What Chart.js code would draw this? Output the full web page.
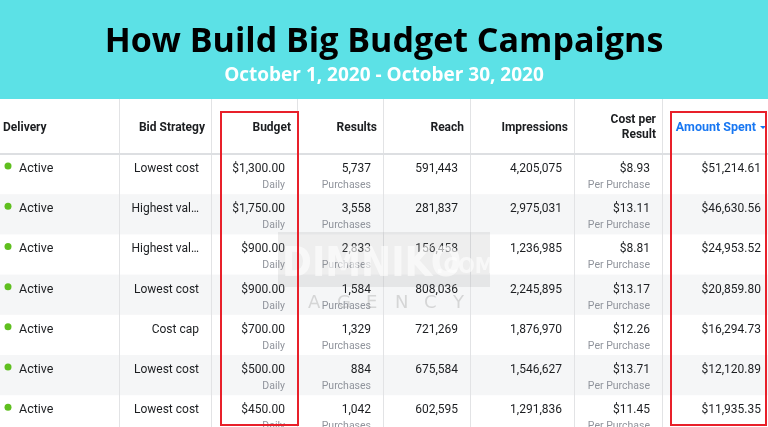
<!DOCTYPE html>
<html lang="en">
<head>
  <meta charset="UTF-8">
  <title>How Build Big Budget Campaigns</title>
  <script src="https://cdn.jsdelivr.net/npm/chart.js"></script>
  <style>
    * { box-sizing: border-box; }
    body { margin: 0; background: #ffffff; }
    .wrap { position: relative; width: 768px; height: 427px; }
  </style>
</head>
<body>
  <div class="wrap">
    <canvas id="tabela"></canvas>
  </div>

  <script>
    // dados
    const columnHeaders = ['Delivery', 'Bid Strategy', 'Budget', 'Results', 'Reach', 'Impressions', ['Cost per', 'Result'], 'Amount Spent'];
    const delivery = ['Active', 'Active', 'Active', 'Active', 'Active', 'Active', 'Active'];
    const bidStrategy = ['Lowest cost', 'Highest val…', 'Highest val…', 'Lowest cost', 'Cost cap', 'Lowest cost', 'Lowest cost'];
    const budget = [1300, 1750, 900, 900, 700, 500, 450];
    const results = [5737, 3558, 2833, 1584, 1329, 884, 1042];
    const reach = [591443, 281837, 156458, 808036, 721269, 675584, 602595];
    const impressions = [4205075, 2975031, 1236985, 2245895, 1876970, 1546627, 1291836];
    const costPerResult = [8.93, 13.11, 8.81, 13.17, 12.26, 13.71, 11.45];
    const amountSpent = [51214.61, 46630.56, 24953.52, 20859.80, 16294.73, 12120.89, 11935.35];

    // layout (bordas das colunas em px, altura das linhas)
    const colEdges = [0, 119, 211, 297, 383, 470, 574, 662, 768];
    const headerH = 55;
    const rowH = 40.2;
    const visibleRows = (427 - 154) / rowH;

    const money = v => '$' + v.toLocaleString('en-US', { minimumFractionDigits: 2, maximumFractionDigits: 2 });
    const num = v => v.toLocaleString('en-US');

    const cells = [
      null,
      { main: bidStrategy },
      { main: budget.map(money), sub: 'Daily' },
      { main: results.map(num), sub: 'Purchases' },
      { main: reach.map(num) },
      { main: impressions.map(num) },
      { main: costPerResult.map(money), sub: 'Per Purchase' },
      { main: amountSpent.map(money) }
    ];

    const FONT = 'Roboto, "Liberation Sans", sans-serif';

    const tabelaPlugin = {
      id: 'tabela',
      beforeDraw(chart) {
        const { ctx, chartArea, scales: { x, y } } = chart;
        const top = chartArea.top - headerH;
        ctx.save();
        ctx.fillStyle = '#5ce1e6';
        ctx.fillRect(0, 0, chart.width, top);
        ctx.fillStyle = '#ffffff';
        ctx.fillRect(0, top, chart.width, chart.height - top);
        // linhas zebradas
        delivery.forEach((d, i) => {
          if (i % 2 === 1) {
            ctx.fillStyle = '#f5f6f7';
            const y0 = y.getPixelForValue(i);
            ctx.fillRect(x.left, y0, x.width, y.getPixelForValue(i + 1) - y0);
          }
        });
        // separadores
        ctx.strokeStyle = '#e2e3e5';
        ctx.lineWidth = 1;
        colEdges.slice(1, -1).forEach(e => {
          const px = Math.round(x.getPixelForValue(e)) + 0.5;
          ctx.beginPath();
          ctx.moveTo(px, top);
          ctx.lineTo(px, chart.height);
          ctx.stroke();
        });
        ctx.strokeStyle = '#dddfe2';
        ctx.lineWidth = 2;
        ctx.beginPath();
        ctx.moveTo(0, chartArea.top);
        ctx.lineTo(chart.width, chartArea.top);
        ctx.stroke();
        ctx.restore();
      },
      afterDatasetsDraw(chart) {
        const { ctx, chartArea, scales: { x, y } } = chart;
        const top = chartArea.top - headerH;
        ctx.save();
        // cabecalho
        ctx.font = 'bold 12px ' + FONT;
        ctx.textBaseline = 'alphabetic';
        columnHeaders.forEach((h, c) => {
          const right = x.getPixelForValue(colEdges[c + 1]);
          ctx.fillStyle = '#1c1e21';
          if (c === 0) {
            ctx.textAlign = 'left';
            ctx.fillText(h, x.getPixelForValue(colEdges[0]) + 3, top + 32);
          } else if (Array.isArray(h)) {
            ctx.textAlign = 'right';
            ctx.fillText(h[0], right - 6, top + 24);
            ctx.fillText(h[1], right - 6, top + 39);
          } else if (c === columnHeaders.length - 1) {
            ctx.fillStyle = '#1877f2';
            ctx.font = 'bold 12.5px ' + FONT;
            ctx.textAlign = 'right';
            ctx.fillText(h, right - 12, top + 32);
            ctx.beginPath();
            ctx.moveTo(right - 8, top + 27);
            ctx.lineTo(right - 2, top + 27);
            ctx.lineTo(right - 5, top + 30);
            ctx.closePath();
            ctx.fill();
          } else {
            ctx.textAlign = 'right';
            ctx.fillText(h, right - 6, top + 32);
          }
        });
        // celulas
        ctx.textAlign = 'left';
        ctx.fillStyle = '#1c1e21';
        ctx.font = '12.5px ' + FONT;
        delivery.forEach((d, i) => {
          ctx.fillText(d, x.getPixelForValue(colEdges[0]) + 19, y.getPixelForValue(i) + 18);
        });
        ctx.textAlign = 'right';
        cells.forEach((col, c) => {
          if (!col) return;
          const pad = c === cells.length - 1 ? 7 : 12;
          const right = x.getPixelForValue(colEdges[c + 1]) - pad;
          col.main.forEach((v, i) => {
            const y0 = y.getPixelForValue(i);
            ctx.fillStyle = '#1c1e21';
            ctx.font = '12px ' + FONT;
            ctx.fillText(v, right, y0 + 18);
            if (col.sub) {
              ctx.fillStyle = '#90949c';
              ctx.font = '10.5px ' + FONT;
              ctx.fillText(col.sub, right, y0 + 34);
            }
          });
        });
        ctx.restore();
      },
      afterDraw(chart) {
        const { ctx, chartArea, scales: { x } } = chart;
        const top = chartArea.top - headerH;
        ctx.save();
        // marca d'agua
        ctx.fillStyle = 'rgba(150,150,150,0.16)';
        ctx.fillRect(278, 232, 212, 55);
        ctx.fillStyle = 'rgba(255,255,255,0.6)';
        ctx.font = 'bold 40px "DejaVu Sans Condensed", sans-serif';
        ctx.textAlign = 'left';
        ctx.textBaseline = 'alphabetic';
        ctx.fillText('DIMNIKO', 282, 276);
        ctx.font = 'bold 22px "DejaVu Sans Condensed", sans-serif';
        ctx.fillText('.COM', 436, 273);
        ctx.fillStyle = 'rgba(140,140,140,0.3)';
        ctx.font = '18px "DejaVu Sans", sans-serif';
        ['A', 'G', 'E', 'N', 'C', 'Y'].forEach((l, k) => ctx.fillText(l, 308 + k * 29, 308));
        // caixas vermelhas
        ctx.strokeStyle = '#e8202a';
        ctx.lineWidth = 2;
        ctx.strokeRect(x.getPixelForValue(colEdges[2]) + 10, top + 13, 77, 313);
        ctx.strokeRect(x.getPixelForValue(colEdges[7]) + 9, top + 13, 95, 313);
        ctx.restore();
      }
    };

    new Chart(document.getElementById('tabela'), {
      type: 'scatter',
      data: {
        datasets: [{
          label: 'Delivery',
          data: delivery.map((d, i) => ({ x: 8, y: i + 0.3 })),
          pointRadius: 3.5,
          pointHoverRadius: 3.5,
          backgroundColor: '#5fbf1f',
          borderWidth: 0
        }]
      },
      options: {
        responsive: true,
        maintainAspectRatio: false,
        animation: false,
        events: [],
        layout: { padding: 0, autoPadding: false },
        plugins: {
          legend: { display: false },
          tooltip: { enabled: false },
          title: {
            display: true,
            text: 'How Build Big Budget Campaigns',
            color: '#000000',
            font: { family: '"Open Sans", sans-serif', size: 34, weight: 'bold', lineHeight: 1.25 },
            padding: { top: 21, bottom: 0 }
          },
          subtitle: {
            display: true,
            text: 'October 1, 2020 - October 30, 2020',
            color: '#ffffff',
            font: { family: '"Open Sans", sans-serif', size: 19, weight: 'bold', lineHeight: 1.25 },
            padding: { top: 0, bottom: 11.75 + headerH }
          }
        },
        scales: {
          x: { type: 'linear', min: colEdges[0], max: colEdges[colEdges.length - 1], display: false },
          y: { type: 'linear', min: 0, max: visibleRows, reverse: true, display: false }
        }
      },
      plugins: [tabelaPlugin]
    });
  </script>
</body>
</html>
